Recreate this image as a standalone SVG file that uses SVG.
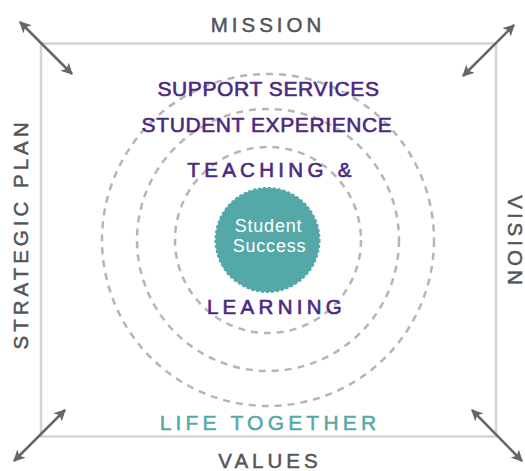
<svg xmlns="http://www.w3.org/2000/svg" width="525" height="471" viewBox="0 0 525 471">
  <defs>
    <marker id="head" viewBox="0 0 10 10" refX="9" refY="5" markerWidth="4.6" markerHeight="4.6" orient="auto-start-reverse" markerUnits="strokeWidth">
      <path d="M0,0 L10,5 L0,10 L2.5,5 Z" fill="#666666"/>
    </marker>
    <style>
      .frame { fill: none; stroke: #d4d4d4; stroke-width: 2.5; }
      .ring { fill: none; stroke: #b5b5b5; stroke-width: 2.5; stroke-dasharray: 7 6; }
      .arrow { stroke: #666666; stroke-width: 2.5; fill: none; marker-start: url(#head); marker-end: url(#head); }
      .side { font-family: "Liberation Sans", Arial, sans-serif; font-size: 20.5px; fill: #555555; stroke: #555555; stroke-width: 0.5px; letter-spacing: 4px; text-anchor: middle; }
      .ring-label { font-family: "Liberation Sans", Arial, sans-serif; font-size: 21px; fill: #4b2882; stroke: #4b2882; stroke-width: 0.6px; text-anchor: middle; }
      .wide { letter-spacing: 4.3px; font-size: 20.5px; }
      .core { fill: #55a8a8; stroke: #55a8a8; stroke-width: 2; stroke-dasharray: 3 2; }
      .core-label { font-family: "Liberation Sans", Arial, sans-serif; font-size: 18px; fill: #ffffff; letter-spacing: 0.8px; text-anchor: middle; }
      .life { font-family: "Liberation Sans", Arial, sans-serif; font-size: 21px; fill: #55a8a8; stroke: #55a8a8; stroke-width: 0.5px; letter-spacing: 4.2px; text-anchor: middle; }
    </style>
  </defs>

  <!-- outer frame -->
  <g id="frame">
    <rect class="frame" x="41" y="43.5" width="455" height="393"/>
  </g>

  <!-- corner double arrows -->
  <g id="connectors">
    <line class="arrow" x1="20" y1="22" x2="72" y2="74"/>
    <line class="arrow" x1="514" y1="25" x2="463" y2="76"/>
    <line class="arrow" x1="65" y1="410" x2="14" y2="461"/>
    <line class="arrow" x1="472" y1="410" x2="522" y2="461"/>
  </g>

  <!-- concentric dashed rings -->
  <g id="rings">
    <circle class="ring" cx="268" cy="240" r="166"/>
    <circle class="ring" cx="268" cy="240" r="131"/>
    <circle class="ring" cx="268" cy="240" r="93"/>
  </g>

  <!-- side labels -->
  <g id="mission">
    <text class="side" x="268" y="32">MISSION</text>
  </g>
  <g id="values">
    <text class="side" x="270" y="468">VALUES</text>
  </g>
  <g id="strategic-plan">
    <text class="side" letter-spacing="3" transform="translate(27.5,234) rotate(-90)">STRATEGIC PLAN</text>
  </g>
  <g id="vision">
    <text class="side" transform="translate(507.5,242) rotate(90)">VISION</text>
  </g>

  <!-- ring labels -->
  <g id="support-services">
    <text class="ring-label" x="268.5" y="95.5" letter-spacing="0.6">SUPPORT SERVICES</text>
  </g>
  <g id="student-experience">
    <text class="ring-label" x="267" y="132" letter-spacing="0.6">STUDENT EXPERIENCE</text>
  </g>
  <g id="teaching-learning">
    <text class="ring-label wide" x="271.5" y="177">TEACHING &amp;</text>
    <text class="ring-label wide" x="276.5" y="314">LEARNING</text>
  </g>
  <g id="life-together">
    <text class="life" x="270" y="430">LIFE TOGETHER</text>
  </g>

  <!-- centre node -->
  <g id="student-success">
    <circle class="core" cx="267.5" cy="240" r="52"/>
    <text class="core-label" x="268.5" y="232">Student</text>
    <text class="core-label" x="269.5" y="252">Success</text>
  </g>
</svg>
